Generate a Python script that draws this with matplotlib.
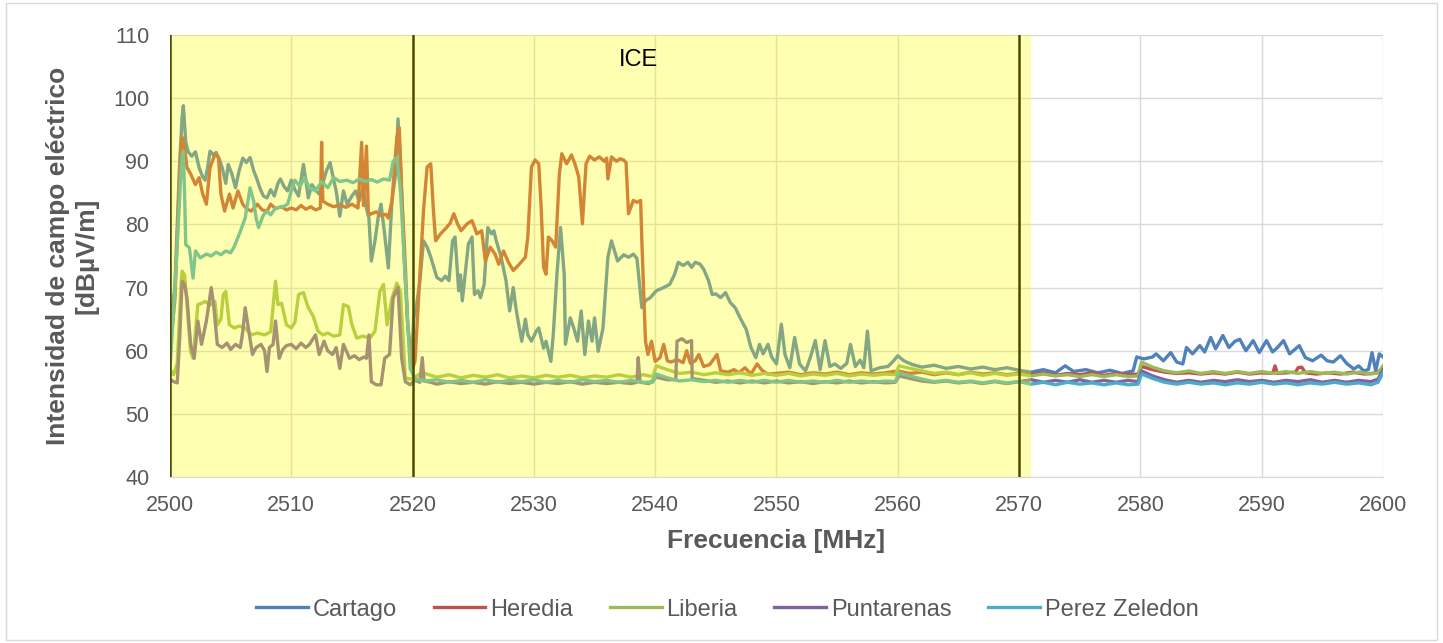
import matplotlib
matplotlib.use("Agg")
import matplotlib.pyplot as plt
from matplotlib.patches import Rectangle

plt.rcParams['font.family'] = ['Liberation Sans', 'DejaVu Sans']

# ---------------------------------------------------------------
# Data (frequency MHz, field strength dBuV/m)
# ---------------------------------------------------------------
CARTAGO = [
    (2500.0, 64.0), (2500.4, 70.0), (2500.8, 90.0), (2501.0, 97.0), (2501.1, 98.8), (2501.3, 93.0),
    (2501.5, 91.5), (2501.8, 90.8), (2502.1, 91.5), (2502.4, 89.0), (2502.7, 87.5), (2502.9, 87.0),
    (2503.1, 89.0), (2503.3, 91.6), (2503.6, 91.0), (2503.8, 91.4), (2504.1, 90.2), (2504.3, 89.0),
    (2504.6, 86.5), (2504.8, 89.5), (2505.1, 88.0), (2505.4, 85.8), (2505.7, 88.5), (2506.0, 90.5),
    (2506.3, 89.8), (2506.6, 90.6), (2506.9, 88.5), (2507.2, 87.0), (2507.4, 85.8), (2507.7, 84.5),
    (2508.0, 84.2), (2508.3, 85.5), (2508.6, 84.5), (2508.9, 86.5), (2509.1, 87.2), (2509.4, 86.0),
    (2509.7, 85.3), (2510.0, 87.0), (2510.3, 85.5), (2510.6, 84.5), (2511.0, 89.5), (2511.2, 87.0),
    (2511.4, 84.2), (2511.7, 86.3), (2512.0, 85.5), (2512.3, 84.8), (2512.6, 86.5), (2512.9, 88.5),
    (2513.2, 89.8), (2513.5, 87.0), (2513.7, 85.3), (2514.0, 81.3), (2514.3, 85.3), (2514.6, 83.2),
    (2515.0, 84.5), (2515.3, 85.3), (2515.6, 83.7), (2515.9, 85.8), (2516.2, 82.5), (2516.4, 81.0),
    (2516.6, 74.2), (2516.9, 77.4), (2517.2, 81.6), (2517.4, 83.2), (2517.7, 78.4), (2518.0, 73.1),
    (2518.3, 83.7), (2518.6, 88.0), (2518.8, 96.7), (2519.0, 90.0), (2519.3, 74.7), (2519.6, 64.0),
    (2519.9, 57.5), (2520.1, 65.2), (2520.3, 66.8), (2520.6, 71.0), (2520.9, 77.4), (2521.2, 76.4),
    (2521.5, 74.8), (2522.0, 71.6), (2522.4, 71.1), (2522.7, 71.8), (2523.0, 71.1), (2523.3, 77.4),
    (2523.5, 78.0), (2523.8, 69.5), (2523.95, 72.0), (2524.1, 67.9), (2524.6, 76.9), (2524.9, 78.0),
    (2525.1, 68.9), (2525.4, 69.5), (2525.6, 68.4), (2525.9, 70.5), (2526.2, 79.5), (2526.5, 78.5),
    (2526.7, 79.0), (2526.9, 77.4), (2527.3, 74.8), (2527.7, 71.1), (2528.0, 66.3), (2528.3, 70.0),
    (2528.5, 67.0), (2528.7, 64.7), (2529.0, 61.5), (2529.3, 65.0), (2529.5, 62.5), (2529.8, 61.5),
    (2530.2, 63.1), (2530.4, 63.6), (2530.8, 60.4), (2531.0, 61.5), (2531.4, 58.3), (2531.6, 62.6),
    (2531.9, 72.1), (2532.2, 79.5), (2532.5, 72.1), (2532.6, 61.0), (2533.0, 65.2), (2533.3, 63.5),
    (2533.6, 61.5), (2533.9, 66.3), (2534.2, 59.4), (2534.5, 64.7), (2534.8, 61.5), (2535.0, 65.2),
    (2535.3, 59.9), (2535.7, 63.6), (2536.1, 74.8), (2536.4, 77.4), (2536.9, 74.2), (2537.4, 75.2),
    (2537.8, 74.8), (2538.2, 75.3), (2538.5, 74.6), (2538.9, 66.8), (2539.2, 67.9), (2539.6, 68.4),
    (2540.1, 69.5), (2540.7, 70.0), (2541.2, 70.5), (2541.6, 72.1), (2541.9, 74.0), (2542.3, 73.5),
    (2542.7, 74.0), (2543.0, 73.2), (2543.3, 74.0), (2543.7, 73.7), (2544.0, 72.9), (2544.4, 71.1),
    (2544.7, 68.9), (2545.0, 69.0), (2545.4, 68.4), (2545.8, 69.2), (2546.2, 67.6), (2546.6, 66.8),
    (2547.0, 65.2), (2547.5, 63.4), (2547.9, 60.5), (2548.3, 58.9), (2548.6, 61.0), (2548.9, 59.5),
    (2549.3, 61.0), (2549.6, 59.0), (2550.0, 57.9), (2550.4, 64.2), (2550.7, 59.4), (2551.1, 57.3),
    (2551.5, 62.1), (2551.9, 57.9), (2552.4, 56.8), (2552.8, 59.0), (2553.2, 61.6), (2553.6, 57.0),
    (2554.0, 61.6), (2554.4, 57.5), (2554.8, 57.9), (2555.3, 57.2), (2555.8, 58.0), (2556.1, 61.0),
    (2556.5, 57.5), (2556.9, 58.5), (2557.2, 57.3), (2557.5, 63.1), (2557.8, 56.8), (2558.5, 57.3),
    (2559.2, 57.5), (2559.7, 58.5), (2560.0, 59.2), (2560.5, 58.4), (2561.2, 57.8), (2562.0, 57.4),
    (2563.0, 57.7), (2564.0, 57.2), (2565.0, 57.5), (2566.0, 57.1), (2567.0, 57.4), (2568.0, 57.0),
    (2569.0, 57.3), (2570.0, 56.9), (2571.0, 56.6), (2572.0, 57.0), (2573.0, 56.5), (2573.8, 57.6),
    (2574.5, 56.7), (2575.5, 57.0), (2576.5, 56.5), (2577.5, 56.9), (2578.5, 56.4), (2579.4, 56.8),
    (2579.7, 59.0), (2580.3, 58.7), (2581.0, 59.0), (2581.3, 59.5), (2581.9, 58.4), (2582.5, 59.7),
    (2583.0, 58.2), (2583.5, 57.9), (2583.8, 60.5), (2584.3, 59.5), (2584.9, 60.8), (2585.3, 59.8),
    (2585.8, 62.1), (2586.2, 60.3), (2586.8, 62.4), (2587.3, 60.5), (2587.8, 61.5), (2588.2, 61.8),
    (2588.7, 60.0), (2589.3, 61.6), (2589.8, 59.7), (2590.4, 61.6), (2590.9, 59.8), (2591.3, 60.5),
    (2591.8, 61.6), (2592.3, 59.5), (2593.1, 60.8), (2593.6, 58.9), (2594.2, 58.4), (2594.9, 59.3),
    (2595.4, 58.4), (2595.9, 58.2), (2596.5, 59.2), (2597.0, 58.0), (2597.6, 57.1), (2598.0, 57.6),
    (2598.4, 56.8), (2598.8, 57.0), (2599.1, 59.7), (2599.4, 56.8), (2599.7, 59.5), (2600.0, 59.0),
]

HEREDIA = [
    (2500.0, 60.0), (2500.4, 68.0), (2500.8, 88.0), (2501.0, 93.8), (2501.2, 92.2), (2501.4, 89.0),
    (2501.7, 88.0), (2502.1, 86.3), (2502.4, 87.4), (2502.7, 84.8), (2503.0, 83.2), (2503.3, 89.0),
    (2503.7, 91.1), (2504.0, 90.6), (2504.2, 84.8), (2504.5, 82.1), (2504.9, 84.8), (2505.2, 82.6),
    (2505.6, 85.3), (2506.0, 83.2), (2506.3, 82.5), (2506.7, 82.1), (2507.2, 83.2), (2507.6, 82.3),
    (2508.0, 82.1), (2508.3, 83.2), (2508.7, 82.5), (2509.2, 82.8), (2509.6, 82.3), (2510.0, 82.6),
    (2510.4, 82.3), (2510.8, 83.0), (2511.2, 82.4), (2511.6, 82.8), (2512.0, 82.3), (2512.4, 82.6),
    (2512.5, 93.0), (2512.6, 83.7), (2513.0, 83.2), (2513.5, 82.8), (2514.0, 83.1), (2514.5, 82.7),
    (2515.0, 83.2), (2515.5, 82.6), (2515.8, 93.0), (2515.95, 83.0), (2516.2, 92.4), (2516.35, 82.0),
    (2516.5, 81.6), (2517.0, 82.0), (2517.4, 81.4), (2517.8, 81.6), (2518.0, 81.0), (2518.3, 83.7),
    (2518.7, 93.8), (2518.9, 95.3), (2519.1, 85.3), (2519.4, 73.6), (2519.6, 64.0), (2520.0, 57.2),
    (2520.2, 58.3), (2520.6, 72.1), (2520.9, 82.2), (2521.2, 89.1), (2521.5, 89.6), (2521.7, 82.7),
    (2521.9, 77.4), (2522.3, 78.5), (2522.8, 79.5), (2523.1, 80.2), (2523.4, 81.7), (2523.7, 80.1),
    (2524.0, 79.0), (2524.5, 80.1), (2524.9, 80.6), (2525.3, 78.5), (2525.7, 79.0), (2526.0, 74.2),
    (2526.4, 76.4), (2526.8, 75.3), (2527.1, 73.7), (2527.5, 75.8), (2527.9, 74.0), (2528.3, 72.7),
    (2528.8, 73.7), (2529.3, 74.8), (2529.5, 78.0), (2529.8, 89.1), (2530.1, 90.2), (2530.4, 89.6),
    (2530.6, 82.7), (2530.8, 73.2), (2531.0, 72.1), (2531.2, 78.0), (2531.5, 77.4), (2531.8, 76.4),
    (2532.1, 88.0), (2532.3, 91.2), (2532.7, 89.6), (2533.1, 91.0), (2533.4, 89.5), (2533.7, 87.5),
    (2534.0, 80.1), (2534.3, 89.6), (2534.6, 90.8), (2535.0, 90.2), (2535.4, 90.7), (2535.8, 90.0),
    (2536.0, 90.5), (2536.1, 87.2), (2536.4, 90.7), (2536.8, 90.0), (2537.1, 90.4), (2537.4, 90.2),
    (2537.6, 89.8), (2537.8, 81.7), (2538.2, 83.8), (2538.5, 83.5), (2538.8, 83.8), (2538.9, 77.4),
    (2539.2, 61.5), (2539.4, 59.4), (2539.7, 61.5), (2540.0, 58.3), (2540.4, 58.9), (2540.7, 61.0),
    (2541.0, 58.4), (2541.3, 58.2), (2541.8, 58.6), (2542.3, 58.1), (2542.6, 60.0), (2542.9, 58.0),
    (2543.3, 58.4), (2543.6, 59.4), (2544.0, 57.5), (2544.5, 57.8), (2545.1, 59.4), (2545.4, 56.8),
    (2546.0, 56.6), (2546.5, 57.0), (2546.9, 56.5), (2547.4, 57.3), (2547.9, 56.3), (2548.4, 57.9),
    (2548.8, 56.9), (2549.3, 56.3), (2550.0, 56.4), (2551.0, 56.6), (2552.0, 56.2), (2553.0, 56.5),
    (2554.0, 56.3), (2555.0, 56.6), (2556.0, 56.2), (2557.0, 56.5), (2558.0, 56.3), (2559.0, 56.5),
    (2560.0, 56.8), (2561.0, 56.4), (2562.0, 56.6), (2563.0, 56.2), (2564.0, 56.5), (2565.0, 56.2),
    (2566.0, 56.6), (2567.0, 56.3), (2568.0, 56.5), (2569.0, 56.2), (2570.0, 56.4), (2571.0, 56.2),
    (2572.0, 56.5), (2573.0, 56.1), (2574.0, 56.4), (2575.0, 56.2), (2576.0, 56.5), (2577.0, 56.1),
    (2578.0, 56.4), (2579.0, 56.2), (2579.8, 56.3), (2580.1, 57.5), (2581.0, 57.0), (2582.0, 56.6),
    (2583.0, 56.4), (2584.0, 56.5), (2585.0, 56.3), (2586.0, 56.5), (2587.0, 56.3), (2588.0, 56.6),
    (2589.0, 56.3), (2590.0, 56.5), (2590.9, 56.4), (2591.1, 57.6), (2591.3, 56.4), (2592.0, 56.5),
    (2592.8, 56.6), (2593.0, 57.3), (2593.3, 57.4), (2593.6, 56.5), (2594.5, 56.3), (2595.5, 56.5),
    (2596.5, 56.3), (2597.5, 56.6), (2598.5, 56.3), (2599.5, 56.5), (2600.0, 57.2),
]

LIBERIA = [
    (2500.0, 57.0), (2500.3, 56.2), (2500.6, 58.0), (2500.9, 70.0), (2501.0, 72.6), (2501.2, 72.0),
    (2501.4, 67.3), (2501.7, 59.9), (2501.9, 58.8), (2502.3, 67.3), (2502.6, 67.5), (2502.9, 67.8),
    (2503.3, 67.2), (2503.7, 67.8), (2503.9, 64.1), (2504.2, 65.0), (2504.4, 68.9), (2504.6, 69.4),
    (2504.9, 64.1), (2505.3, 63.6), (2505.7, 63.9), (2506.2, 63.6), (2506.7, 62.5), (2507.2, 62.8),
    (2507.8, 62.5), (2508.3, 63.0), (2508.7, 71.0), (2508.9, 67.3), (2509.2, 67.5), (2509.6, 64.1),
    (2510.0, 63.6), (2510.3, 64.5), (2510.6, 68.9), (2511.0, 69.2), (2511.4, 66.8), (2511.8, 65.5),
    (2512.2, 63.1), (2512.6, 62.5), (2513.0, 62.8), (2513.5, 62.3), (2514.0, 62.5), (2514.3, 67.3),
    (2514.7, 67.0), (2515.0, 64.1), (2515.4, 62.0), (2515.9, 62.3), (2516.5, 62.0), (2516.9, 63.1),
    (2517.3, 69.4), (2517.6, 70.5), (2517.9, 64.1), (2518.3, 68.3), (2518.7, 70.7), (2519.0, 69.4),
    (2519.4, 55.7), (2519.8, 55.5), (2520.0, 55.6), (2520.5, 56.2), (2521.0, 56.4), (2522.0, 55.8),
    (2523.0, 56.2), (2524.0, 55.7), (2525.0, 56.1), (2526.0, 55.8), (2527.0, 56.2), (2528.0, 55.7),
    (2529.0, 56.0), (2530.0, 55.7), (2531.0, 56.1), (2532.0, 55.8), (2533.0, 56.1), (2534.0, 55.7),
    (2535.0, 56.0), (2536.0, 55.8), (2537.0, 56.2), (2538.0, 55.8), (2539.0, 56.2), (2539.8, 55.9),
    (2540.1, 57.6), (2541.0, 57.0), (2542.0, 56.4), (2543.0, 56.6), (2544.0, 56.2), (2545.0, 56.5),
    (2546.0, 56.2), (2547.0, 56.5), (2548.0, 56.1), (2549.0, 56.4), (2550.0, 56.1), (2551.0, 56.4),
    (2552.0, 56.0), (2553.0, 56.3), (2554.0, 56.1), (2555.0, 56.4), (2556.0, 56.0), (2557.0, 56.3),
    (2558.0, 56.1), (2559.0, 56.3), (2559.8, 56.2), (2560.1, 57.6), (2561.0, 57.2), (2562.0, 56.8),
    (2563.0, 56.4), (2564.0, 56.6), (2565.0, 56.2), (2566.0, 56.5), (2567.0, 56.1), (2568.0, 56.4),
    (2569.0, 56.1), (2570.0, 56.3), (2571.0, 56.0), (2572.0, 56.3), (2573.0, 56.0), (2574.0, 56.2),
    (2575.0, 55.9), (2576.0, 56.2), (2577.0, 55.9), (2578.0, 56.2), (2579.0, 55.9), (2579.8, 56.0),
    (2580.1, 58.2), (2581.0, 57.4), (2582.0, 56.8), (2583.0, 56.5), (2584.0, 56.8), (2585.0, 56.4),
    (2586.0, 56.7), (2587.0, 56.4), (2588.0, 56.7), (2589.0, 56.4), (2590.0, 56.7), (2591.0, 56.4),
    (2592.0, 56.7), (2593.0, 56.4), (2594.0, 56.7), (2595.0, 56.4), (2596.0, 56.6), (2597.0, 56.3),
    (2598.0, 56.6), (2599.0, 56.3), (2599.6, 56.5), (2600.0, 57.6),
]

PUNTARENAS = [
    (2500.0, 55.5), (2500.3, 55.1), (2500.6, 54.9), (2500.8, 62.0), (2501.0, 71.0), (2501.2, 70.5),
    (2501.4, 68.4), (2501.7, 61.0), (2502.0, 58.8), (2502.3, 64.7), (2502.6, 61.0), (2503.0, 64.7),
    (2503.4, 70.0), (2503.6, 67.3), (2503.9, 61.0), (2504.3, 60.5), (2504.7, 61.2), (2505.0, 60.2),
    (2505.4, 61.0), (2505.8, 60.5), (2506.0, 63.0), (2506.2, 66.8), (2506.5, 63.1), (2506.8, 59.4),
    (2507.1, 60.5), (2507.5, 61.0), (2507.8, 60.0), (2508.0, 56.7), (2508.2, 60.5), (2508.5, 61.0),
    (2508.7, 64.7), (2509.0, 58.8), (2509.3, 60.2), (2509.6, 60.8), (2510.0, 61.0), (2510.4, 60.3),
    (2510.8, 61.2), (2511.2, 60.5), (2511.5, 61.0), (2512.0, 62.5), (2512.3, 59.4), (2512.7, 61.5),
    (2513.0, 60.0), (2513.4, 59.4), (2513.7, 60.5), (2514.0, 57.2), (2514.3, 61.0), (2514.8, 58.8),
    (2515.2, 59.2), (2515.6, 58.6), (2516.0, 59.0), (2516.2, 58.8), (2516.4, 62.5), (2516.6, 55.1),
    (2517.0, 54.6), (2517.4, 54.6), (2517.7, 58.8), (2518.1, 59.4), (2518.4, 68.4), (2518.8, 70.0),
    (2519.1, 58.8), (2519.4, 55.1), (2519.8, 54.6), (2520.2, 55.3), (2520.6, 55.0), (2520.8, 58.9),
    (2520.95, 55.2), (2521.5, 55.0), (2522.0, 54.7), (2523.0, 55.1), (2524.0, 54.8), (2525.0, 55.0),
    (2526.0, 54.7), (2527.0, 55.1), (2528.0, 54.8), (2529.0, 55.0), (2530.0, 54.7), (2531.0, 55.0),
    (2532.0, 54.8), (2533.0, 55.1), (2534.0, 54.7), (2535.0, 55.0), (2536.0, 54.8), (2537.0, 55.0),
    (2538.0, 54.8), (2538.5, 55.0), (2538.6, 58.9), (2538.75, 55.0), (2539.5, 54.8), (2540.1, 55.8),
    (2541.0, 55.4), (2541.7, 55.4), (2541.8, 61.5), (2542.2, 61.9), (2542.6, 61.3), (2543.0, 61.6),
    (2543.05, 55.6), (2544.0, 55.3), (2545.0, 55.0), (2546.0, 55.2), (2547.0, 54.9), (2548.0, 55.2),
    (2549.0, 54.9), (2550.0, 55.2), (2551.0, 54.9), (2552.0, 55.1), (2553.0, 54.8), (2554.0, 55.1),
    (2555.0, 54.9), (2556.0, 55.2), (2557.0, 54.9), (2558.0, 55.1), (2559.0, 54.9), (2559.8, 55.0),
    (2560.1, 56.0), (2561.0, 55.6), (2562.0, 55.2), (2563.0, 55.0), (2564.0, 55.2), (2565.0, 54.9),
    (2566.0, 55.1), (2567.0, 54.8), (2568.0, 55.1), (2569.0, 54.8), (2570.0, 55.1), (2571.0, 55.4),
    (2572.0, 55.0), (2573.0, 55.3), (2574.0, 55.0), (2575.0, 55.4), (2576.0, 55.0), (2577.0, 55.3),
    (2578.0, 55.0), (2579.0, 55.3), (2579.8, 55.1), (2580.1, 56.8), (2581.0, 56.0), (2582.0, 55.4),
    (2583.0, 55.0), (2584.0, 55.3), (2585.0, 55.0), (2586.0, 55.3), (2587.0, 55.1), (2588.0, 55.4),
    (2589.0, 55.1), (2590.0, 55.3), (2591.0, 55.0), (2592.0, 55.3), (2593.0, 55.1), (2594.0, 55.4),
    (2595.0, 55.0), (2596.0, 55.3), (2597.0, 55.0), (2598.0, 55.3), (2599.0, 55.1), (2599.6, 55.5),
    (2600.0, 57.0),
]

PEREZ_ZELEDON = [
    (2500.0, 57.2), (2500.4, 69.4), (2500.9, 88.0), (2501.0, 90.6), (2501.1, 91.6), (2501.2, 85.3),
    (2501.3, 76.8), (2501.6, 76.3), (2501.9, 71.5), (2502.1, 75.8), (2502.5, 74.7), (2503.0, 75.3),
    (2503.4, 75.0), (2503.8, 75.6), (2504.2, 75.2), (2504.6, 75.8), (2505.0, 75.5), (2505.3, 76.5),
    (2505.8, 78.9), (2506.2, 81.0), (2506.6, 85.8), (2506.9, 83.7), (2507.1, 81.0), (2507.3, 79.5),
    (2507.7, 81.5), (2508.0, 82.1), (2508.3, 81.5), (2508.7, 82.6), (2509.3, 82.8), (2509.7, 83.2),
    (2510.0, 85.3), (2510.3, 87.0), (2510.7, 86.0), (2511.1, 87.4), (2511.5, 85.8), (2512.0, 85.3),
    (2512.5, 86.8), (2513.0, 85.8), (2513.5, 87.4), (2514.0, 86.8), (2514.6, 87.0), (2515.1, 86.6),
    (2515.6, 87.2), (2516.1, 86.8), (2516.6, 87.1), (2517.1, 86.7), (2517.6, 87.2), (2518.1, 87.0),
    (2518.4, 90.0), (2518.7, 90.6), (2519.0, 85.3), (2519.4, 71.5), (2519.8, 57.2), (2520.2, 55.5),
    (2521.0, 55.2), (2522.0, 55.4), (2523.0, 55.0), (2524.0, 55.3), (2525.0, 55.0), (2526.0, 55.4),
    (2527.0, 55.0), (2528.0, 55.3), (2529.0, 55.1), (2530.0, 55.4), (2531.0, 55.0), (2532.0, 55.3),
    (2533.0, 55.0), (2534.0, 55.4), (2535.0, 55.1), (2536.0, 55.3), (2537.0, 55.0), (2538.0, 55.3),
    (2539.0, 55.0), (2539.8, 55.0), (2540.1, 56.3), (2541.0, 55.7), (2542.0, 55.2), (2543.0, 55.4),
    (2544.0, 55.1), (2545.0, 55.3), (2546.0, 55.0), (2547.0, 55.3), (2548.0, 55.0), (2549.0, 55.3),
    (2550.0, 55.0), (2551.0, 55.3), (2552.0, 55.0), (2553.0, 55.2), (2554.0, 55.0), (2555.0, 55.3),
    (2556.0, 55.0), (2557.0, 55.2), (2558.0, 55.0), (2559.0, 55.2), (2559.8, 55.1), (2560.1, 56.5),
    (2561.0, 56.0), (2562.0, 55.5), (2563.0, 55.1), (2564.0, 55.3), (2565.0, 55.0), (2566.0, 55.2),
    (2567.0, 54.9), (2568.0, 55.2), (2569.0, 54.9), (2570.0, 55.1), (2571.0, 54.7), (2572.0, 55.0),
    (2573.0, 54.6), (2574.0, 55.0), (2575.0, 54.7), (2576.0, 54.9), (2577.0, 54.6), (2578.0, 54.9),
    (2579.0, 54.6), (2579.8, 54.7), (2580.1, 56.3), (2581.0, 55.6), (2582.0, 55.0), (2583.0, 54.7),
    (2584.0, 55.0), (2585.0, 54.7), (2586.0, 54.9), (2587.0, 54.6), (2588.0, 54.9), (2589.0, 54.7),
    (2590.0, 55.0), (2591.0, 54.7), (2592.0, 54.9), (2593.0, 54.6), (2594.0, 54.9), (2595.0, 54.7),
    (2596.0, 55.0), (2597.0, 54.7), (2598.0, 54.9), (2599.0, 54.6), (2599.6, 55.0), (2600.0, 56.5),
]

SERIES_NAMES = ["Cartago", "Heredia", "Liberia", "Puntarenas", "Perez Zeledon"]
SERIES_DATA = [CARTAGO, HEREDIA, LIBERIA, PUNTARENAS, PEREZ_ZELEDON]
SERIES_COLORS = ["#4F81BD", "#C0504D", "#9BBB59", "#8064A2", "#4BACC6"]

BAND_MARKERS = [2500, 2520, 2570]     # vertical separators
BAND_SPAN = (2500, 2571)              # highlighted ICE band
BAND_LABEL = "ICE"

X_TICKS = list(range(2500, 2601, 10))
Y_TICKS = list(range(40, 111, 10))

TEXT_GRAY = "#595959"
GRID_GRAY = "#D9D9D9"

# ---------------------------------------------------------------
fig = plt.figure(figsize=(14.43, 6.43), dpi=100)
ax = fig.add_axes([0.1178, 0.2582, 0.8406, 0.6874])

for name, pts, color in zip(SERIES_NAMES, SERIES_DATA, SERIES_COLORS):
    f = [p[0] for p in pts]
    v = [p[1] for p in pts]
    ax.plot(f, v, color=color, lw=2.4, label=name, zorder=2,
            solid_joinstyle='round')

for xm in BAND_MARKERS:
    ax.axvline(xm, color="black", lw=1.8, zorder=3)

ax.axvspan(BAND_SPAN[0], BAND_SPAN[1], color="#FFFF00", alpha=0.3,
           lw=0, zorder=4)
ax.text(2538.6, 106, BAND_LABEL, fontsize=17, color="black",
        ha="center", va="center", zorder=5)

ax.set_xlim(2500, 2600)
ax.set_ylim(40, 110)
ax.set_xticks(X_TICKS)
ax.set_yticks(Y_TICKS)
ax.grid(True, color=GRID_GRAY, lw=1.0, zorder=0)
ax.set_axisbelow(True)
for s in ax.spines.values():
    s.set_visible(False)
ax.spines['bottom'].set_visible(True)
ax.spines['bottom'].set_color(GRID_GRAY)
ax.tick_params(axis='both', length=0, labelsize=15.5, colors=TEXT_GRAY)
ax.tick_params(axis='x', pad=13)
ax.tick_params(axis='y', pad=15)

fig.text(0.538, 0.159, "Frecuencia [MHz]", fontsize=19, fontweight="bold",
         color=TEXT_GRAY, ha="center", va="center")
fig.text(0.050, 0.602, "Intensidad de campo eléctrico\n[dBµV/m]",
         fontsize=19, fontweight="bold", color=TEXT_GRAY, rotation=90,
         ha="center", va="center", multialignment="center")

fig.legend(loc="center", bbox_to_anchor=(0.504, 0.052), ncol=5,
           frameon=False, fontsize=17, handlelength=2.2,
           handletextpad=0.2, columnspacing=1.55, labelcolor=TEXT_GRAY)

fig.patches.append(Rectangle((0.004, 0.005), 0.992, 0.99,
                             transform=fig.transFigure, fill=False,
                             edgecolor=GRID_GRAY, lw=1.0))

fig.savefig("out.png", dpi=100)
